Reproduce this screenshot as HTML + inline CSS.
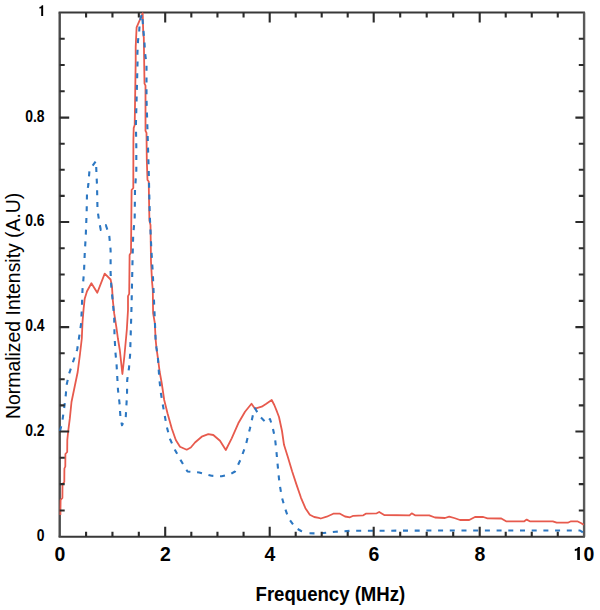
<!DOCTYPE html>
<html><head><meta charset="utf-8"><style>
html,body{margin:0;padding:0;background:#fff;width:600px;height:610px;overflow:hidden}
svg{display:block}
text{font-family:"Liberation Sans",sans-serif;fill:#000}
.yl{font-size:16px;font-weight:bold;text-anchor:end}
.xl{font-size:20.5px;font-weight:bold;text-anchor:middle}
</style></head><body>
<svg width="600" height="610" viewBox="0 0 600 610">
<rect width="600" height="610" fill="#fff"/>
<path d="M58.6,12.4H584.9M58.6,536.8H584.9" stroke="#383838" stroke-width="2" fill="none"/>
<path d="M59.7,12.4V536.8" stroke="#4a4a4a" stroke-width="2.4" fill="none"/>
<path d="M584.0999999999999,12.4V536.8" stroke="#5a5a5a" stroke-width="2.4" fill="none"/>
<polyline points="60.4,515.0 60.6,500.0 62.4,498.0 62.5,484.0 64.3,482.0 64.4,468.5 65.3,466.5 65.4,454.0 67.2,452.0 67.3,440.0 68.1,432.0 69.8,418.7 71.5,402.0 74.8,386.0 77.7,372.0 80.0,354.0 81.8,338.5 82.5,322.3 83.6,309.0 84.7,298.7 87.0,291.3 91.4,283.2 97.3,292.8 104.7,273.6 110.6,279.5 112.0,286.9 112.8,300.1 114.2,313.4 116.5,328.2 117.9,338.5 119.8,350.0 122.4,374.0 124.3,357.0 126.8,330.0 128.0,310.0 128.0,296.1 129.2,293.9 129.6,254.9 131.0,252.6 131.6,190.0 133.3,188.0 133.4,140.0 133.7,128.0 134.7,125.0 135.7,60.0 135.7,46.7 136.6,27.4 142.7,13.3 143.3,35.0 143.8,37.3 144.5,83.6 145.5,85.6 145.5,130.8 146.5,132.8 146.8,160.0 147.5,180.0 148.7,181.5 149.4,220.5 150.5,225.0 151.0,261.7 152.1,282.4 152.8,290.0 153.1,313.0 154.8,322.8 155.6,339.2 156.4,347.4 158.0,358.9 159.7,372.0 161.7,383.0 164.2,400.0 167.5,413.3 171.7,428.3 175.8,440.0 180.0,446.7 186.7,449.7 190.8,447.5 195.0,442.5 201.7,436.7 208.3,434.2 213.3,435.0 220.0,440.8 225.8,450.0 231.7,438.3 238.3,423.3 245.0,411.7 251.5,403.8 255.0,408.7 261.7,406.7 266.3,403.7 271.7,400.0 274.3,405.0 277.0,411.7 279.0,417.0 282.0,431.0 284.0,444.8 287.7,456.5 292.1,471.3 296.5,484.6 301.0,497.8 305.4,508.2 309.8,514.8 314.2,517.0 318.7,517.9 320.8,518.5 326.7,516.7 333.3,513.7 340.0,513.7 345.0,516.5 350.0,517.3 353.3,515.8 363.3,515.3 365.8,513.7 376.7,513.3 379.2,512.0 384.2,515.0 409.5,515.3 411.7,513.3 415.0,515.3 429.2,515.3 435.0,517.5 445.0,518.0 449.2,516.7 454.2,518.0 460.0,520.0 469.2,520.0 475.0,517.0 483.3,517.0 487.5,518.3 501.3,518.5 506.1,521.3 524.3,521.3 526.7,519.6 529.8,521.3 552.8,521.3 556.7,522.7 567.8,522.7 571.0,521.3 577.3,521.3 581.3,523.2 583.7,524.8" fill="none" stroke="#e75a4d" stroke-width="1.8" stroke-linejoin="round"/>
<g fill="none" stroke="#2c77c2" stroke-width="2.1" stroke-dasharray="5 6.7" stroke-linejoin="round"><polyline points="60.0,431.0 61.5,425.0 62.5,420.0 64.1,408.5 65.7,396.0 66.6,385.0 69.0,374.0 73.1,361.7 77.2,349.5 79.0,338.0 81.1,323.7 81.8,309.0 82.5,289.8 84.0,272.1 84.7,254.4 85.8,235.0 86.7,210.0 87.0,193.3 88.3,185.0 89.5,170.0 96.0,161.0 96.5,175.0 97.0,185.0 97.5,210.0 99.2,221.7 100.8,230.0 105.8,225.0 109.2,235.0 110.6,250.0 110.6,272.1 111.3,286.9 112.8,301.6 114.2,317.8 114.5,335.0 115.4,352.0 116.6,365.0 118.0,390.0 119.5,403.0 120.5,418.0 122.0,425.2 125.7,418.0 127.0,395.0 127.2,380.0 129.0,368.0 130.1,355.0 131.5,307.6 132.6,257.2 133.2,235.0 134.7,218.0 135.0,190.0 136.3,171.0 136.3,146.0 135.9,125.0 136.6,99.0 137.6,60.0 137.4,53.7 138.0,40.8 139.2,31.5 139.8,21.0 142.0,13.8 143.3,29.0 144.4,40.8 145.0,52.5 146.5,64.0 146.5,99.0 147.5,131.0 148.7,170.0 149.8,215.9 151.4,250.3 152.8,273.2 154.4,310.0 155.6,339.0 156.4,347.4 158.0,358.9 159.3,378.5 160.7,392.0 162.5,403.0 166.7,426.5 170.0,439.0 175.0,450.0 180.8,460.4 187.5,471.5 199.2,472.5 211.7,475.8 221.7,476.3 230.0,474.5 235.0,471.5 240.8,459.0 245.8,445.0 250.0,428.3 253.3,413.3 255.0,408.3 259.7,416.3 263.7,420.3 266.3,423.0 270.0,419.0 271.7,424.3 273.0,429.0 275.0,438.3 276.3,450.0 277.5,463.3 278.7,475.8 279.6,484.0 281.8,497.0 284.7,507.4 288.4,518.0 295.4,527.7 301.1,531.0 308.3,533.3"/><polyline points="308.3,533.3 319.2,533.4 335.6,531.8 350.0,530.8 450.0,530.5 580.0,530.5 582.9,532.5" stroke-dashoffset="-1.2"/></g>
<path d="M86.08,536.8v-5M86.08,12.4v5M112.45,536.8v-5M112.45,12.4v5M138.82,536.8v-5M138.82,12.4v5M165.20,536.8v-10M165.20,12.4v10M191.32,536.8v-5M191.32,12.4v5M217.45,536.8v-5M217.45,12.4v5M243.57,536.8v-5M243.57,12.4v5M269.70,536.8v-10M269.70,12.4v10M295.70,536.8v-5M295.70,12.4v5M321.70,536.8v-5M321.70,12.4v5M347.70,536.8v-5M347.70,12.4v5M373.70,536.8v-10M373.70,12.4v10M400.20,536.8v-5M400.20,12.4v5M426.70,536.8v-5M426.70,12.4v5M453.20,536.8v-5M453.20,12.4v5M479.70,536.8v-10M479.70,12.4v10M505.72,536.8v-5M505.72,12.4v5M531.75,536.8v-5M531.75,12.4v5M557.77,536.8v-5M557.77,12.4v5M59.7,510.47h5M583.8,510.47h-5M59.7,484.15h5M583.8,484.15h-5M59.7,457.82h5M583.8,457.82h-5M59.7,431.50h9.5M583.8,431.50h-8.4M59.7,405.40h5M583.8,405.40h-5M59.7,379.30h5M583.8,379.30h-5M59.7,353.20h5M583.8,353.20h-5M59.7,327.10h9.5M583.8,327.10h-8.4M59.7,300.83h5M583.8,300.83h-5M59.7,274.55h5M583.8,274.55h-5M59.7,248.27h5M583.8,248.27h-5M59.7,222.00h9.5M583.8,222.00h-8.4M59.7,195.90h5M583.8,195.90h-5M59.7,169.80h5M583.8,169.80h-5M59.7,143.70h5M583.8,143.70h-5M59.7,117.60h9.5M583.8,117.60h-8.4M59.7,91.30h5M583.8,91.30h-5M59.7,65.00h5M583.8,65.00h-5M59.7,38.70h5M583.8,38.70h-5" stroke="#2b2b2b" stroke-width="2.1" fill="none"/>
<text transform="translate(44.6,540.8) scale(0.87,1)" class="yl">0</text><text transform="translate(44.6,435.5) scale(0.87,1)" class="yl">0.2</text><text transform="translate(44.6,331.1) scale(0.87,1)" class="yl">0.4</text><text transform="translate(44.6,226.0) scale(0.87,1)" class="yl">0.6</text><text transform="translate(44.6,121.6) scale(0.87,1)" class="yl">0.8</text><path transform="translate(38.5,16.0) scale(0.0125,-0.0152)" d="M215,0H372V710H262C245,648 185,606 73,598V486C135,490 180,505 215,530Z" fill="#000"/>
<text transform="translate(60.0,560.6) scale(0.95,1)" class="xl">0</text><text transform="translate(165.5,560.6) scale(0.95,1)" class="xl">2</text><text transform="translate(270.0,560.6) scale(0.95,1)" class="xl">4</text><text transform="translate(374.0,560.6) scale(0.95,1)" class="xl">6</text><text transform="translate(480.0,560.6) scale(0.95,1)" class="xl">8</text><text transform="translate(588.9,560.6) scale(0.95,1)" class="xl">0</text><path transform="translate(573.56,559.9) scale(0.017,-0.0183)" d="M215,0H372V710H262C245,648 185,606 73,598V486C135,490 180,505 215,530Z" fill="#000"/>
<text transform="translate(330.4,600.8) scale(0.93,1)" text-anchor="middle" style="font-size:20px;font-weight:bold">Frequency (MHz)</text>
<text transform="translate(20.4,305.8) rotate(-90) scale(0.96,1)" text-anchor="middle" style="font-size:20.2px">Normalized Intensity (A.U)</text>
</svg>
</body></html>
